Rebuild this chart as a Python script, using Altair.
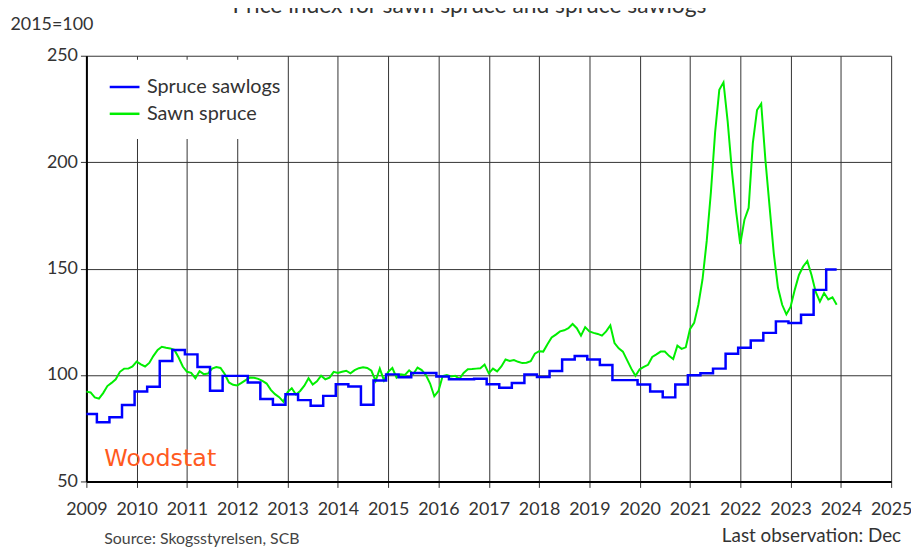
import altair as alt
import pandas as pd

series_names = ["Spruce sawlogs", "Sawn spruce"]
series_colors = ["#0000ff", "#00ee00"]
start_year = 2009
year_ticks = list(range(2009, 2026))
y_ticks = [50, 100, 150, 200, 250]

# Spruce sawlogs: quarterly index values, Q1 2009 .. Q4 2023
sawlogs_quarterly = [
    81.7, 77.8, 80.2, 85.9,
    92.3, 94.5, 106.6, 111.7,
    109.7, 103.8, 92.6, 99.6,
    99.6, 96.5, 88.7, 86.0,
    91.0, 88.2, 85.6, 90.2,
    95.7, 94.6, 86.0, 97.4,
    100.3, 99.0, 101.0, 101.0,
    99.3, 98.0, 98.0, 98.3,
    95.7, 94.0, 96.2, 100.2,
    99.1, 101.9, 107.3, 108.9,
    107.3, 104.7, 97.6, 97.6,
    95.5, 92.3, 89.5, 95.5,
    99.9, 100.8, 103.0, 110.0,
    112.8, 116.2, 119.8, 125.2,
    124.4, 128.3, 140.0, 149.6,
]

# Sawn spruce: monthly index values, Jan 2009 .. Dec 2023
sawn_monthly = [
    92.2, 91.8, 89.5, 88.9, 91.5, 94.8, 96.3, 98.0, 101.5, 103.0, 103.0, 104.0,
    106.3, 105.0, 104.0, 105.7, 109.0, 111.8, 113.3, 112.8, 112.5, 111.8, 108.2, 104.0,
    101.5, 101.0, 98.5, 101.8, 100.4, 100.7, 103.0, 103.7, 103.3, 100.5, 96.5, 95.4,
    95.1, 96.3, 97.6, 98.8, 98.7, 98.2, 97.2, 96.0, 93.0, 91.0, 89.6, 87.5,
    92.0, 93.8, 90.8, 92.5, 95.0, 98.5, 95.5, 97.0, 99.7, 98.0, 98.8, 101.5,
    101.0, 101.5, 102.0, 100.8, 102.3, 103.2, 103.6, 103.3, 102.0, 97.2, 103.0, 97.5,
    101.5, 103.3, 98.8, 100.3, 100.0, 102.2, 100.5, 103.5, 102.3, 100.0, 96.0, 90.0,
    92.5, 99.5, 100.0, 99.3, 99.6, 98.2, 101.0, 102.7, 102.8, 103.0, 103.2, 104.9,
    100.8, 103.0, 101.7, 104.0, 107.3, 106.6, 107.0, 106.2, 105.6, 105.8, 106.5, 110.0,
    111.2, 111.0, 114.5, 117.6, 119.0, 120.5, 121.0, 122.0, 124.0, 122.0, 118.5, 122.5,
    120.5, 119.8, 119.3, 118.5, 120.5, 123.3, 115.0, 112.5, 111.0, 107.0, 103.0, 99.6,
    102.7, 103.8, 104.8, 108.5, 109.7, 111.0, 111.0, 109.0, 107.5, 113.8, 112.3, 113.0,
    121.5, 124.5, 133.0, 145.0, 163.0, 186.0, 214.0, 234.0, 237.5, 219.0, 196.0, 177.0,
    161.5, 173.0, 178.5, 209.0, 224.5, 227.5, 201.0, 179.0, 157.0, 141.0, 133.0, 128.5,
    132.0, 140.0, 147.0, 151.0, 153.5, 147.0, 139.0, 134.5, 138.5, 135.5, 136.5, 133.0,
]

rows = []
for q, v in enumerate(sawlogs_quarterly):
    for k in range(3):
        m = 3 * q + k
        rows.append({"t": start_year + m / 12, "value": v, "series": series_names[0]})
for m, v in enumerate(sawn_monthly):
    rows.append({"t": start_year + m / 12, "value": v, "series": series_names[1]})
df = pd.DataFrame(rows)

FONT = "Lato"
TXT = "#333333"

x_enc = alt.X(
    "t:Q",
    scale=alt.Scale(domain=[2009, 2025], nice=False, zero=False),
    axis=alt.Axis(values=year_ticks, format="d", title=None, grid=True,
                  labelPadding=13, tickSize=6, labelFlush=False),
)
y_enc = alt.Y(
    "value:Q",
    scale=alt.Scale(domain=[50, 250], nice=False, zero=False),
    axis=alt.Axis(values=y_ticks, grid=True, title="2015=100", titleAngle=0,
                  titleX=-77, titleY=-26, titleAlign="left", titleBaseline="alphabetic",
                  titleFont=FONT, titleFontSize=18, titleFontWeight="normal", titleColor=TXT,
                  labelPadding=3, tickSize=6),
)
color_enc = alt.Color(
    "series:N",
    scale=alt.Scale(domain=series_names, range=series_colors),
    legend=alt.Legend(title=None, orient="none", legendX=22, legendY=15,
                      symbolType="stroke", symbolStrokeWidth=2.5, symbolSize=900,
                      labelFont=FONT, labelFontSize=20, labelColor=TXT,
                      labelOffset=6, rowPadding=0, padding=0),
)

one = alt.Data(values=[{}])

legend_bg = alt.Chart(one).mark_rect(color="white").encode(
    x=alt.value(2), x2=alt.value(201), y=alt.value(4), y2=alt.value(84)
)

green = alt.Chart(df).transform_filter(
    alt.datum.series == series_names[1]
).mark_line(strokeWidth=2).encode(x=x_enc, y=y_enc, color=color_enc)

blue = alt.Chart(df).transform_filter(
    alt.datum.series == series_names[0]
).mark_line(strokeWidth=2.5, interpolate="step").encode(x=x_enc, y=y_enc, color=color_enc)

title = alt.Chart(one).mark_text(
    text="Price index for sawn spruce and spruce sawlogs", font=FONT, fontSize=23,
    color=TXT, align="center", baseline="alphabetic"
).encode(x=alt.value(386), y=alt.value(-43))

logo = alt.Chart(one).mark_text(
    text="Woodstat", font="DejaVu Sans", fontSize=24, color="#ff5a1e",
    align="left", baseline="alphabetic"
).encode(x=alt.value(18), y=alt.value(413))

source = alt.Chart(one).mark_text(
    text="Source: Skogsstyrelsen, SCB", font=FONT, fontSize=16, color="#444444",
    align="left", baseline="alphabetic"
).encode(x=alt.value(18), y=alt.value(492))

lastobs = alt.Chart(one).mark_text(
    text="Last observation: Dec", font=FONT, fontSize=19, color=TXT,
    align="right", baseline="alphabetic"
).encode(x=alt.value(821), y=alt.value(490))

chart = alt.layer(legend_bg, green, blue, title, logo, source, lastobs).properties(
    width=811, height=429,
    autosize=alt.AutoSizeParams(type="none"),
    padding={"left": 79, "top": 46, "right": 20, "bottom": 70},
    background="white",
).configure_view(stroke=None).configure_axis(
    labelFont=FONT, labelFontSize=18, labelColor=TXT,
    domainColor="#000000", domainWidth=2,
    tickColor="#333333", tickWidth=1,
    gridColor="#333333", gridWidth=1, gridOpacity=1,
)

chart.save("out.html", embed_options={"renderer": "svg", "actions": False})
